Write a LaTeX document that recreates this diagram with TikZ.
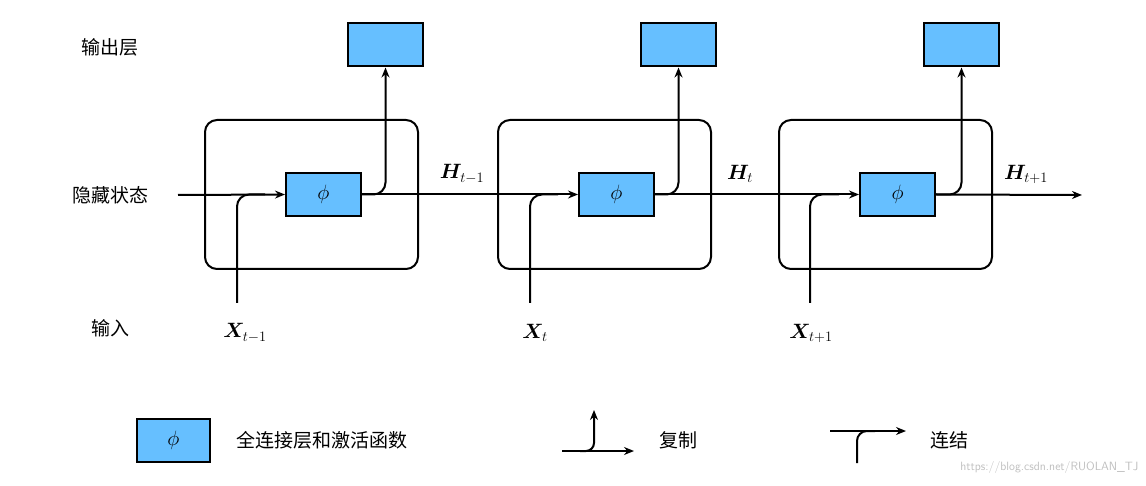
\documentclass[tikz,border=0pt]{standalone}
\usepackage{fontspec}
\usepackage{amsmath,bm}
\newfontfamily\cjk{Noto Sans CJK SC}
\usetikzlibrary{arrows.meta}
\definecolor{boxblue}{HTML}{66BFFF}
\begin{document}
\begin{tikzpicture}[x=1pt,y=-1pt,
  cell/.style={draw,line width=2pt,rounded corners=12pt,minimum width=213pt,minimum height=149pt,inner sep=0},
  fbox/.style={draw,fill=boxblue,line width=2pt,minimum width=75pt,minimum height=43pt,inner sep=0,font=\fontsize{22}{26}\selectfont},
  ln/.style={line width=2pt},
  arr/.style={ln,-{Stealth[length=10pt,width=8pt]}},
  lab/.style={font=\cjk\fontsize{19}{23}\selectfont},
  var/.style={font=\fontsize{22}{26}\selectfont}]
\useasboundingbox (0,0) rectangle (1146,486);
\foreach \i/\cx/\px/\ox/\vx in {1/311.5/323.5/385.5/237, 2/604.5/616.5/678.5/530, 3/885.5/897.5/961.5/810}{
  \node[cell] (c\i) at (\cx,194.5) {};
  \node[fbox] (p\i) at (\px,194.5) {$\phi$};
  \node[fbox] (o\i) at (\ox,45) {};
  \coordinate (x\i) at (\vx,303);
}
\coordinate (hs) at (178,195);
\coordinate (he) at (1082,195);
\draw[arr] (hs) -- (p1.west);
\draw[arr] (p1.east) -- (p2.west);
\draw[arr] (p2.east) -- (p3.west);
\draw[arr] (p3.east) -- (he);
\foreach \i in {1,2,3}{
  \draw[arr,rounded corners=12pt] (p\i.east) -| (o\i.south);
  \draw[ln,rounded corners=12pt] (x\i) |- ([xshift=-20pt]p\i.west);
}
\node[lab] (l1) at (110,47) {输出层};
\node[lab] (l2) at (110,195) {隐藏状态};
\node[lab] (l3) at (110,328) {输入};
\node[var] (h1) at (462,174) {$\bm{H}_{t-1}$};
\node[var] (h2) at (740,174) {$\bm{H}_{t}$};
\node[var] (h3) at (1026,174) {$\bm{H}_{t+1}$};
\node[var] (v1) at (245,333) {$\bm{X}_{t-1}$};
\node[var] (v2) at (535,333) {$\bm{X}_{t}$};
\node[var] (v3) at (811,333) {$\bm{X}_{t+1}$};
% legend
\node[fbox,minimum width=73pt] (lp) at (173.5,440.5) {$\phi$};
\node[lab,anchor=west] (lt1) at (233,440) {全连接层和激活函数};
\coordinate (ca) at (562,451); \coordinate (cb) at (634,451); \coordinate (cc) at (594,410);
\draw[arr] (ca) -- (cb);
\draw[arr,rounded corners=8pt] (580,451) -| (cc);
\node[lab,anchor=west] (lt2) at (656,440) {复制};
\coordinate (da) at (830,431); \coordinate (db) at (906,431); \coordinate (dc) at (857,463);
\draw[arr] (da) -- (db);
\draw[ln,rounded corners=10pt] (dc) |- (875,431);
\node[lab,anchor=west] (lt3) at (927,440) {连结};
\node[font=\sffamily\fontsize{12}{14}\selectfont,text=gray!50,anchor=east] (wm) at (1142,467) {https://blog.csdn.net/RUOLAN\_TJ};
\end{tikzpicture}
\end{document}
